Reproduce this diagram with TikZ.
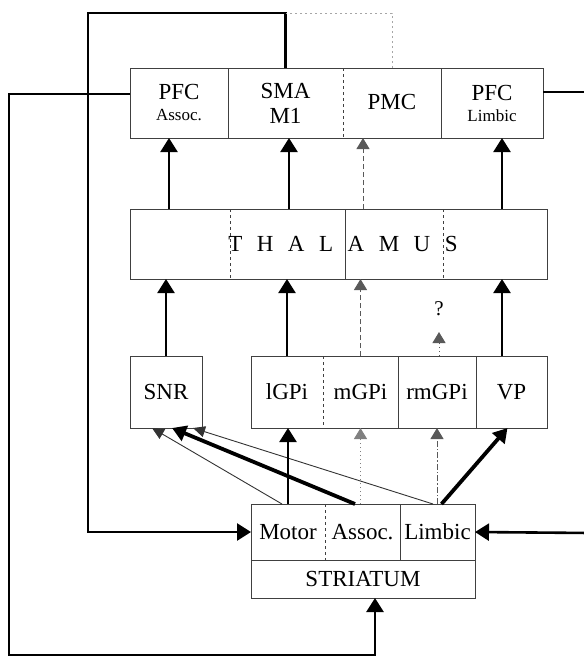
\documentclass[tikz,border=0pt]{standalone}
\usepackage{fontspec}
\setmainfont{Liberation Serif}
\usetikzlibrary{arrows.meta}
\newcommand\mainfs{\fontsize{23}{25}\selectfont}
\newcommand\smallfs{\fontsize{17}{18}\selectfont}
\newcommand\lsp{\hspace{14.5pt}}
\begin{document}
\begin{tikzpicture}[x=1pt,y=-1pt,
  cell/.style={inner sep=0pt,outer sep=0pt,align=center,font=\mainfs},
  box/.style={draw=black!75,line width=1pt},
  thk/.style={line width=2.3pt,-{Triangle[width=17pt,length=14pt]}},
  fb/.style={line width=2.6pt},
  fbarrow/.style={line width=2.6pt,-{Triangle[width=17pt,length=14pt]}},
  thinarr/.style={line width=0.9pt,black!80,-{Triangle[width=11pt,length=12pt]}},
  heavyarr/.style={line width=3.8pt,-{Triangle[width=16pt,length=14pt]}},
  dsharr/.style={line width=0.9pt,black!65,dash pattern=on 5pt off 3pt,-{Triangle[width=13pt,length=11pt]}},
  dotarr/.style={line width=0.9pt,black!65,dash pattern=on 1.5pt off 2.5pt,-{Triangle[width=13pt,length=11pt]}},
  dasharr/.style={line width=0.9pt,black!65,dash pattern=on 6pt off 2pt on 1.5pt off 2pt,-{Triangle[width=13pt,length=11pt]}},
  faint/.style={line width=0.9pt,black!35,dash pattern=on 2pt off 3pt}]
\useasboundingbox (0,0) rectangle (584,657);

% cortex
\node[cell,minimum width=98pt,minimum height=70pt] (pfca) at (179,103) {PFC\\[-4pt]{\smallfs Assoc.}};
\node[cell,minimum width=115pt,minimum height=70pt] (sma) at (285.5,103) {SMA\\M1};
\node[cell,minimum width=98pt,minimum height=70pt] (pmc) at (392,103) {\raisebox{3pt}{PMC}};
\node[cell,minimum width=102pt,minimum height=70pt] (pfcl) at (492,103) {PFC\\[-4pt]{\smallfs Limbic}};
\draw[box] (pfca.north west) rectangle (pfcl.south east);
\draw[box] (pfca.north east) -- (pfca.south east);
\draw[box,dashed] (sma.north east) -- (sma.south east);
\draw[box] (pmc.north east) -- (pmc.south east);

% thalamus
\node[cell,minimum width=417pt,minimum height=70pt] (thal) at (338.5,244) {\hspace*{9pt}T\lsp H\lsp A\lsp L\lsp A\lsp M\lsp U\lsp S};
\draw[box] (thal.north west) rectangle (thal.south east);
\draw[box,dashed] ([xshift=100pt]thal.north west) -- ([xshift=100pt]thal.south west);
\draw[box] ([xshift=215pt]thal.north west) -- ([xshift=215pt]thal.south west);
\draw[box,dashed] ([xshift=313pt]thal.north west) -- ([xshift=313pt]thal.south west);

% pallidum / nigra
\node[cell,box,minimum width=72pt,minimum height=72pt] (snr) at (166,392) {SNR};
\node[cell,minimum width=72pt,minimum height=72pt] (lgpi) at (287,392) {lGPi};
\node[cell,minimum width=75pt,minimum height=72pt] (mgpi) at (360.5,392) {mGPi};
\node[cell,minimum width=78pt,minimum height=72pt] (rmgpi) at (437,392) {rmGPi};
\node[cell,minimum width=71pt,minimum height=72pt] (vp) at (511.5,392) {VP};
\draw[box] (lgpi.north west) rectangle (vp.south east);
\draw[box,dashed] (lgpi.north east) -- (lgpi.south east);
\draw[box] (mgpi.north east) -- (mgpi.south east);
\draw[box] (rmgpi.north east) -- (rmgpi.south east);

% striatum
\node[cell,minimum width=74pt,minimum height=56pt] (motor) at (288,532) {Motor};
\node[cell,minimum width=75pt,minimum height=56pt] (assoc) at (362.5,532) {Assoc.};
\node[cell,minimum width=75pt,minimum height=56pt] (limbic) at (437.5,532) {Limbic};
\node[cell,minimum width=224pt,minimum height=38pt] (striatum) at (363,579) {STRIATUM};
\draw[box] (motor.north west) rectangle (striatum.south east);
\draw[box] (motor.south west) -- (limbic.south east);
\draw[box,dashed] (motor.north east) -- (motor.south east);
\draw[box] (assoc.north east) -- (assoc.south east);

% thalamus -> cortex
\coordinate (cA) at ([xshift=-10pt]pfca.south);
\coordinate (cS) at ([xshift=3.5pt]sma.south);
\coordinate (cP) at ([xshift=-29pt]pmc.south);
\coordinate (cL) at ([xshift=10pt]pfcl.south);
\draw[thk] (thal.north -| cA) -- (cA);
\draw[thk] (thal.north -| cS) -- (cS);
\draw[dsharr] (thal.north -| cP) -- (cP);
\draw[thk] (thal.north -| cL) -- (cL);

% pallidum -> thalamus
\draw[thk] (snr.north) -- (thal.south -| snr.north);
\draw[thk] (lgpi.north) -- (thal.south -| lgpi.north);
\draw[dsharr] (mgpi.north) -- (thal.south -| mgpi.north);
\coordinate (vA) at ([xshift=-9.5pt]vp.north);
\draw[thk] (vA) -- (thal.south -| vA);
\node[font=\fontsize{21}{22}\selectfont,inner sep=0pt] (q) at (439,309) {?};
\coordinate (qa) at (439,332);
\draw[dotarr] (qa |- rmgpi.north) -- (qa);

% striatum -> pallidum / nigra
\draw[thinarr] ([xshift=-6pt]motor.north) -- ([xshift=-14pt]snr.south);
\draw[thinarr] ([xshift=-4.5pt]limbic.north) -- ([xshift=-9pt]snr.south east);
\draw[heavyarr] ([xshift=-7.5pt]assoc.north) -- ([xshift=6pt]snr.south);
\draw[thk] (motor.north) -- (motor.north |- lgpi.south);
\draw[dotarr,black!50] ([xshift=-2pt]assoc.north) -- (mgpi.south);
\draw[dasharr] (rmgpi.south |- limbic.north) -- (rmgpi.south);
\draw[heavyarr] ([xshift=4pt]limbic.north) -- ([xshift=-4pt]vp.south);

% loops
\coordinate (fbTop) at (88,13);
\draw[fbarrow] (sma.north) |- (fbTop) |- (motor.west);
\coordinate (pmcTop) at (392,13);
\draw[faint] (pmc.north) -- (pmcTop) -- (sma.north |- pmcTop);
\coordinate (outerBL) at (9,655);
\draw[fbarrow] ([yshift=9pt]pfca.west) -| (outerBL) -| ([xshift=12pt]striatum.south);
\coordinate (rightTop) at (590,92);
\draw[fb] (pfcl.east |- rightTop) -- (rightTop);
\coordinate (rightBot) at (590,533);
\draw[fbarrow] (rightBot) -- (limbic.east);
\end{tikzpicture}
\end{document}
